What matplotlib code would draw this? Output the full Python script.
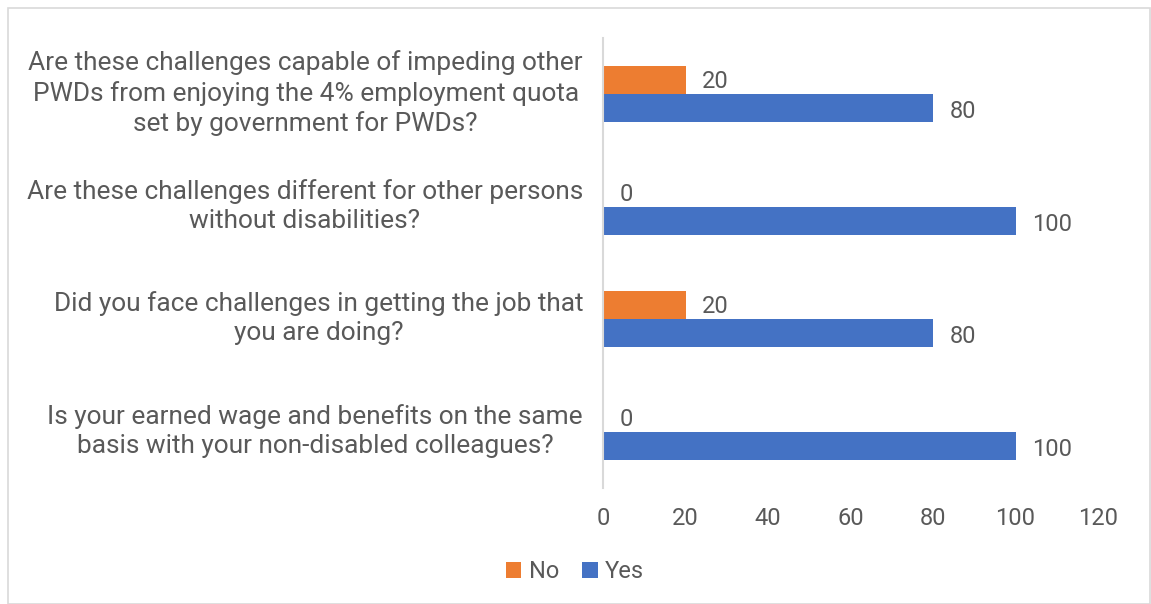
import matplotlib
matplotlib.use("Agg")
import matplotlib.pyplot as plt
import matplotlib.transforms as mtransforms
import numpy as np
from matplotlib.patches import Rectangle

plt.rcParams['font.family'] = ['Roboto', 'DejaVu Sans']

categories = [
    "Are these challenges capable of impeding other\nPWDs from enjoying the 4% employment quota\nset by government for PWDs?",
    "Are these challenges different for other persons\nwithout disabilities?",
    "Did you face challenges in getting the job that\nyou are doing?",
    "Is your earned wage and benefits on the same\nbasis with your non-disabled colleagues?",
]
no_values = [20, 0, 20, 0]
yes_values = [80, 100, 80, 100]
xticks = [0, 20, 40, 60, 80, 100, 120]

ORANGE = "#ED7D31"
BLUE = "#4472C4"
TEXT = "#595959"

fig = plt.figure(figsize=(11.51, 6.04), dpi=100)
ax = fig.add_axes([603/1151, 1-488/604, (1098-603)/1151, (488-38)/604])

y = np.arange(len(categories))
h = 0.25
b_no = ax.barh(y - h/2, no_values, height=h, color=ORANGE, label="No")
b_yes = ax.barh(y + h/2, yes_values, height=h, color=BLUE, label="Yes")

for bars, vals, dy in ((b_no, no_values, -1), (b_yes, yes_values, -2.5)):
    for bar, v in zip(bars, vals):
        ax.annotate(f"{v}", (bar.get_width(), bar.get_y() + bar.get_height()/2),
                    xytext=(12, dy), textcoords="offset points", va="center", ha="left",
                    fontsize=17, color=TEXT)

ax.set_ylim(len(categories) - 0.5, -0.5)
ax.set_xlim(0, 120)
ax.set_xticks(xticks)
ax.set_xticklabels([str(t) for t in xticks])
ax.set_yticks(y)
ax.set_yticklabels([])
ax.tick_params(axis='y', length=0)
ax.tick_params(axis='x', length=0, pad=14, labelsize=17, labelcolor=TEXT)
for s in ["top", "right", "bottom"]:
    ax.spines[s].set_visible(False)
ax.spines["left"].set_color("#D9D9D9")
ax.spines["left"].set_linewidth(1.5)

trans = mtransforms.blended_transform_factory(ax.transAxes, ax.transData) + \
    mtransforms.ScaledTranslation(-20/100, 1/100, fig.dpi_scale_trans)
for yi, lab in zip(y, categories):
    ax.text(0, yi, lab, transform=trans, ha="right", va="center", multialignment="center",
            fontsize=18.9, color=TEXT, linespacing=1.28)

leg = fig.legend(handles=[b_no, b_yes], labels=["No", "Yes"], loc="center",
                 bbox_to_anchor=(575/1151, 1-572/604), ncol=2, frameon=False,
                 fontsize=17, handlelength=0.65, handleheight=0.65, handletextpad=0.3,
                 columnspacing=1.0, labelcolor=TEXT)

fig.patches.append(Rectangle((8/1151, 0), 1-8/1151-1/1151, 1-8/604, transform=fig.transFigure,
                             fill=False, edgecolor="#D9D9D9", linewidth=1.2))

fig.savefig("out.png", dpi=100, facecolor="white")
